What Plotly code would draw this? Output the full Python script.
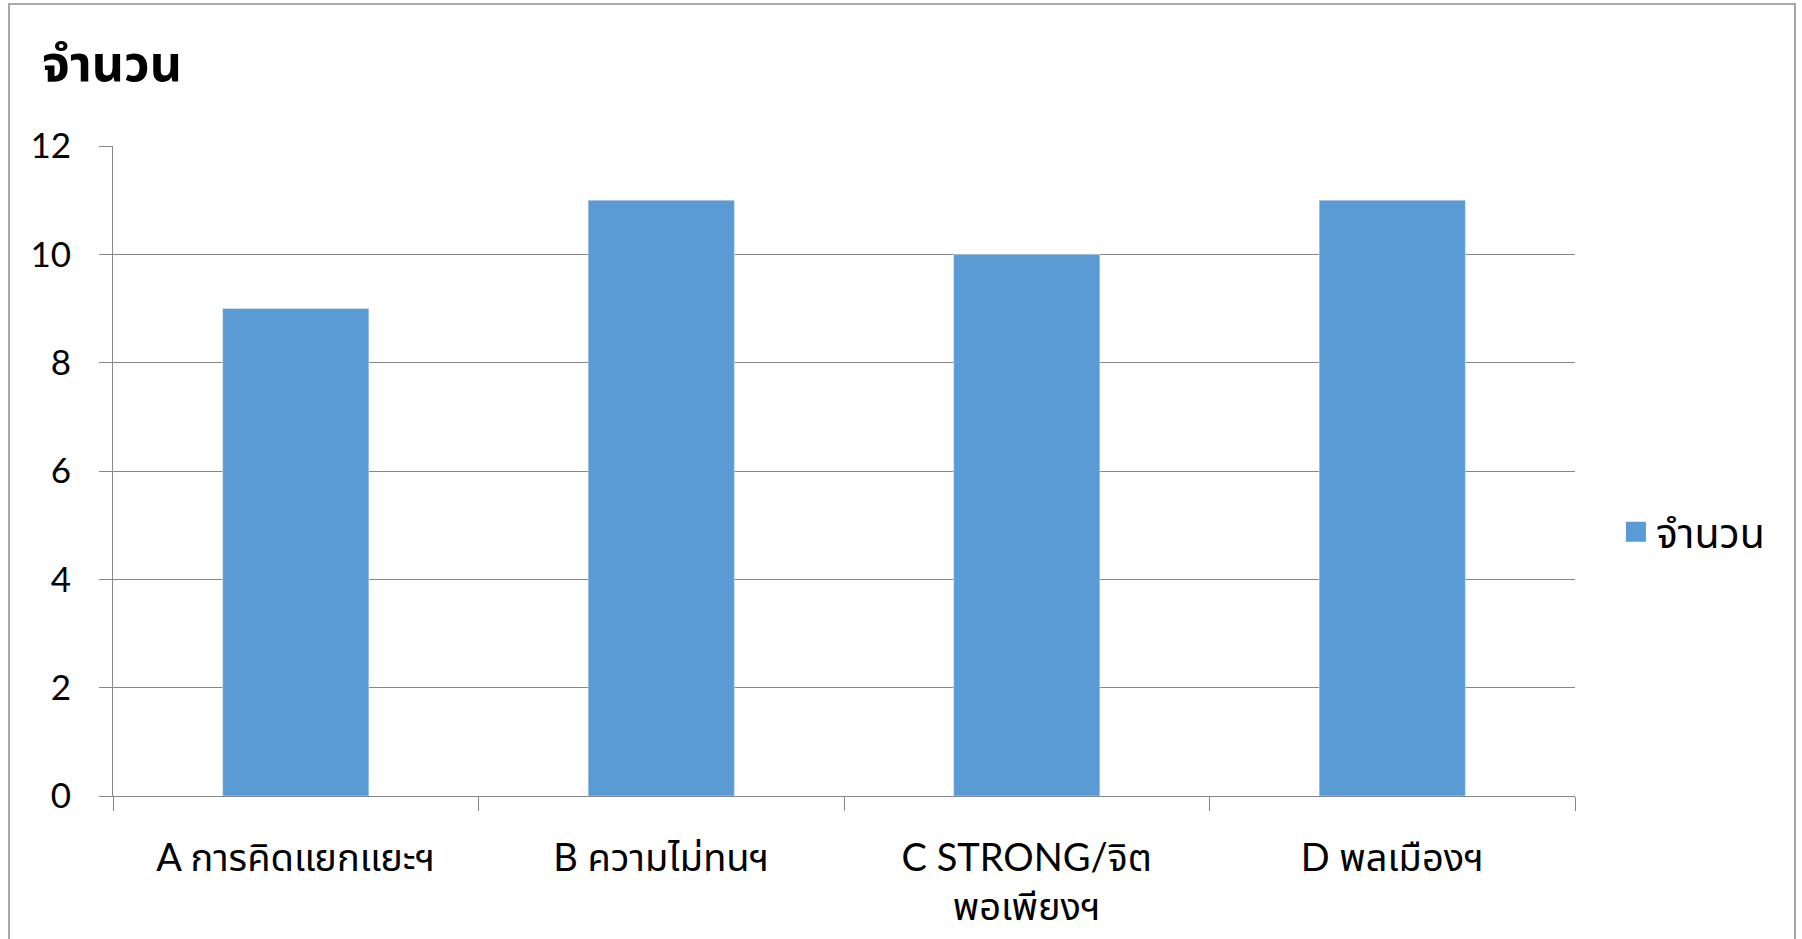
import plotly.graph_objects as go

categories = ["A การคิดแยกแยะฯ", "B ความไม่ทนฯ", "C STRONG/จิต<br>พอเพียงฯ", "D พลเมืองฯ"]
values = [9, 11, 10, 11]
series_name = "จำนวน"
y_ticks = [0, 2, 4, 6, 8, 10, 12]

FONT = "Lato, 'Noto Sans', 'Noto Sans Thai', sans-serif"
GRID = "#878787"
BAR = "#5B9BD5"

fig = go.Figure()
fig.add_trace(go.Bar(
    x=categories,
    y=values,
    name=series_name,
    marker_color=BAR,
    showlegend=False
))
# legend entry with a bigger square like the original
fig.add_trace(go.Scatter(
    x=[None], y=[None],
    mode="markers",
    name=series_name,
    marker=dict(symbol="square", size=16, color=BAR, line=dict(color=BAR, width=4))
))

fig.update_layout(
    width=1802,
    height=939,
    paper_bgcolor="white",
    plot_bgcolor="white",
    font=dict(family=FONT, color="black", size=38),
    title=dict(
        text="<b>จำนวน</b>",
        x=42/1802, xanchor="left",
        y=1-63/939, yanchor="middle",
        font=dict(size=50)
    ),
    margin=dict(l=113, r=227, t=146, b=143),
    bargap=0.6,
    legend=dict(
        x=1.028, xanchor="left",
        y=0.406, yanchor="middle",
        font=dict(size=41),
        itemwidth=30
    ),
    xaxis=dict(
        showgrid=False,
        showline=True,
        linecolor=GRID,
        linewidth=1,
        ticks="outside",
        tickson="boundaries",
        ticklen=14,
        tickcolor=GRID,
        ticklabelstandoff=28
    ),
    yaxis=dict(
        range=[0, 12],
        tickvals=y_ticks,
        showgrid=True,
        gridcolor=GRID,
        gridwidth=1,
        showline=True,
        linecolor=GRID,
        ticks="outside",
        ticklen=13,
        tickcolor=GRID,
        ticklabelstandoff=21,
        zeroline=False,
        tickfont=dict(size=35)
    ),
    shapes=[dict(
        type="rect", xref="paper", yref="paper",
        x0=(9-113)/1462, x1=(1795-113)/1462,
        y0=(796-950)/650, y1=(796-4)/650,
        line=dict(color="#8c8c8c", width=1.5),
        fillcolor="rgba(0,0,0,0)"
    )]
)

fig.write_html(
    "out.html",
    config={"displayModeBar": False},
    post_script="document.body.style.margin='0';"
)
